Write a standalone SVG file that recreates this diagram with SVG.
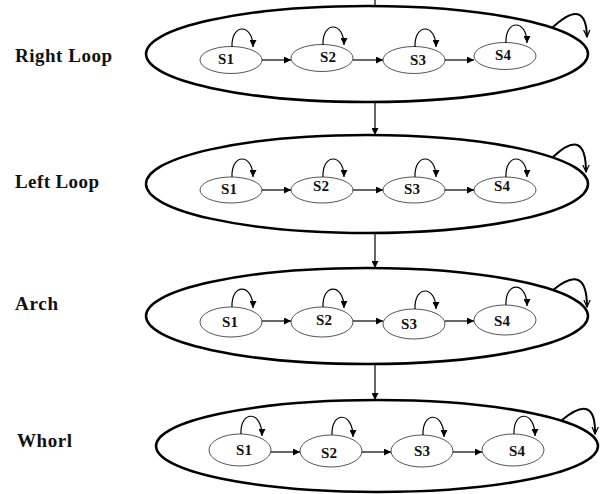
<svg xmlns="http://www.w3.org/2000/svg" width="601" height="494" viewBox="0 0 601 494">
<defs>
<marker id="fa" viewBox="0 0 10 10" refX="10" refY="5" markerWidth="8" markerHeight="7" markerUnits="userSpaceOnUse" orient="auto">
<path d="M0,0 L10,5 L0,10 Z" fill="#000"/>
</marker>
<marker id="va" viewBox="0 0 10 10" refX="9" refY="5" markerWidth="8" markerHeight="8" markerUnits="userSpaceOnUse" orient="auto">
<path d="M0,1 L9,5 L0,9" fill="none" stroke="#000" stroke-width="1.5"/>
</marker>
</defs>
<style>
.big{fill:#fff;stroke:#000;stroke-width:2.5}
.st{fill:#fff;stroke:#555;stroke-width:1}
.lbl{font-family:"Liberation Serif","Times New Roman",serif;font-weight:bold;font-size:19px;fill:#111}
.s{font-family:"Liberation Serif","Times New Roman",serif;font-weight:bold;font-size:15px;fill:#111;text-anchor:middle}
.e{fill:none;stroke:#000;stroke-width:1.2;marker-end:url(#fa)}
.loop{fill:none;stroke:#000;stroke-width:1.2;marker-end:url(#fa)}
.bl{fill:none;stroke:#000;stroke-width:2;marker-end:url(#va)}
</style>
<rect width="601" height="494" fill="#fff"/>
<text class="lbl" x="15" y="62" textLength="97">Right Loop</text>
<text class="lbl" x="15" y="188" textLength="84">Left Loop</text>
<text class="lbl" x="15" y="310" textLength="43">Arch</text>
<text class="lbl" x="17" y="447" textLength="55">Whorl</text>
<g id="right-loop">
<ellipse class="big" cx="367" cy="54" rx="221" ry="48"/>
<g id="r1-s1"><ellipse class="st" cx="231" cy="60" rx="31" ry="13.5"/><text class="s" x="226" y="64">S1</text></g>
<g id="r1-s2"><ellipse class="st" cx="322" cy="58" rx="31" ry="13.5"/><text class="s" x="328" y="62">S2</text></g>
<g id="r1-s3"><ellipse class="st" cx="414" cy="60" rx="31" ry="13.5"/><text class="s" x="418" y="65">S3</text></g>
<g id="r1-s4"><ellipse class="st" cx="505" cy="56" rx="31" ry="13.5"/><text class="s" x="503" y="60">S4</text></g>
</g>
<g id="left-loop">
<ellipse class="big" cx="367" cy="184" rx="221" ry="49"/>
<g id="r2-s1"><ellipse class="st" cx="231" cy="190" rx="31" ry="13"/><text class="s" x="229" y="194">S1</text></g>
<g id="r2-s2"><ellipse class="st" cx="322" cy="190" rx="31" ry="13"/><text class="s" x="321" y="191">S2</text></g>
<g id="r2-s3"><ellipse class="st" cx="414" cy="190" rx="31" ry="13"/><text class="s" x="412" y="194">S3</text></g>
<g id="r2-s4"><ellipse class="st" cx="505" cy="190" rx="31" ry="13"/><text class="s" x="502" y="191">S4</text></g>
</g>
<g id="arch">
<ellipse class="big" cx="367" cy="316" rx="221" ry="48"/>
<g id="r3-s1"><ellipse class="st" cx="231" cy="322" rx="31" ry="15"/><text class="s" x="230" y="327">S1</text></g>
<g id="r3-s2"><ellipse class="st" cx="322" cy="322" rx="31" ry="15"/><text class="s" x="324" y="325">S2</text></g>
<g id="r3-s3"><ellipse class="st" cx="414" cy="324" rx="31" ry="15"/><text class="s" x="409" y="329">S3</text></g>
<g id="r3-s4"><ellipse class="st" cx="505" cy="320" rx="31" ry="15"/><text class="s" x="502" y="326">S4</text></g>
</g>
<g id="whorl">
<ellipse class="big" cx="377" cy="446" rx="221" ry="46"/>
<g id="r4-s1"><ellipse class="st" cx="240" cy="450" rx="31" ry="16"/><text class="s" x="244" y="455">S1</text></g>
<g id="r4-s2"><ellipse class="st" cx="331" cy="451" rx="31" ry="16"/><text class="s" x="329" y="458">S2</text></g>
<g id="r4-s3"><ellipse class="st" cx="422" cy="451" rx="31" ry="16"/><text class="s" x="422" y="456">S3</text></g>
<g id="r4-s4"><ellipse class="st" cx="513" cy="450" rx="31" ry="16"/><text class="s" x="517" y="456">S4</text></g>
</g>
<g id="connectors">
<line x1="375" y1="0" x2="375" y2="6" stroke="#000" stroke-width="1.2"/>
<line class="e" x1="375" y1="102" x2="375" y2="135"/>
<line class="e" x1="375" y1="233" x2="375" y2="268"/>
<line class="e" x1="375" y1="364" x2="375" y2="400"/>
<line class="e" x1="262" y1="60" x2="291" y2="60"/>
<line class="e" x1="353" y1="60" x2="383" y2="60"/>
<line class="e" x1="445" y1="60" x2="474" y2="60"/>
<line class="e" x1="262" y1="190" x2="291" y2="190"/>
<line class="e" x1="353" y1="190" x2="383" y2="190"/>
<line class="e" x1="445" y1="190" x2="474" y2="190"/>
<line class="e" x1="262" y1="321" x2="291" y2="321"/>
<line class="e" x1="353" y1="321" x2="383" y2="321"/>
<line class="e" x1="445" y1="321" x2="474" y2="321"/>
<line class="e" x1="271" y1="452" x2="300" y2="452"/>
<line class="e" x1="362" y1="452" x2="391" y2="452"/>
<line class="e" x1="453" y1="452" x2="482" y2="452"/>
<path class="loop" d="M232,47 C231,23 253,23 253,47"/>
<path class="loop" d="M323,45 C322,21 344,21 344,45"/>
<path class="loop" d="M415,47 C414,23 436,23 436,47"/>
<path class="loop" d="M506,43 C505,19 527,19 527,43"/>
<path class="loop" d="M232,177 C231,153 253,153 253,177"/>
<path class="loop" d="M323,177 C322,153 344,153 344,177"/>
<path class="loop" d="M415,177 C414,153 436,153 436,177"/>
<path class="loop" d="M506,177 C505,153 527,153 527,177"/>
<path class="loop" d="M232,307 C231,283 253,283 253,308"/>
<path class="loop" d="M323,307 C322,283 344,283 344,308"/>
<path class="loop" d="M415,309 C414,285 436,285 436,309"/>
<path class="loop" d="M506,305 C505,281 527,281 527,306"/>
<path class="loop" d="M241,434 C240,410 262,410 262,436"/>
<path class="loop" d="M332,435 C331,411 353,411 353,437"/>
<path class="loop" d="M423,435 C422,411 444,411 444,437"/>
<path class="loop" d="M514,434 C513,410 535,410 535,436"/>
<path class="bl" d="M552,28 Q586,-4 587,37"/>
<path class="bl" d="M553,157 Q586,126 586,172"/>
<path class="bl" d="M553,290 Q587,262 587,307"/>
<path class="bl" d="M562,420 Q596,392 595,434"/>
</g>
</svg>
